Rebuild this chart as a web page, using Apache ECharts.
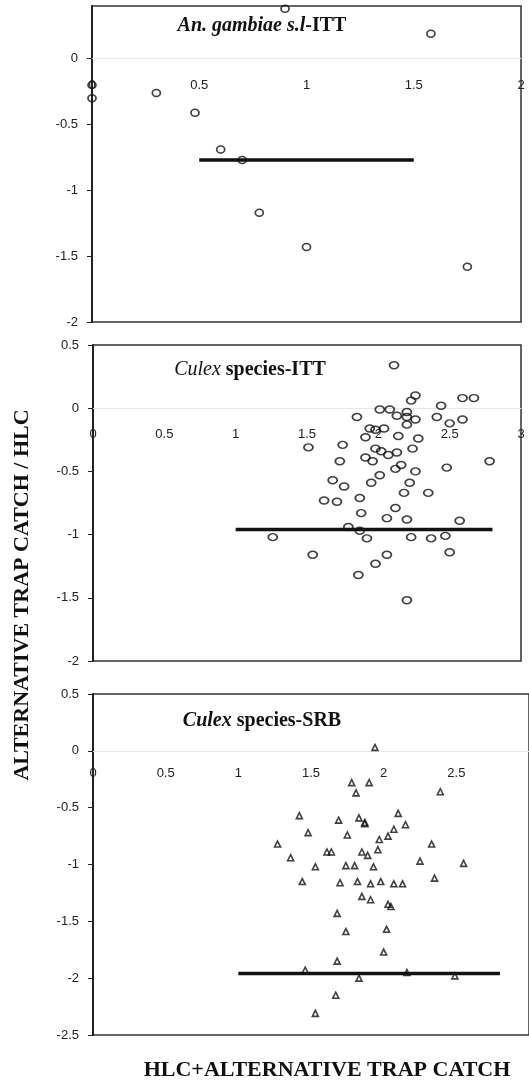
<!DOCTYPE html>
<html>
<head>
<meta charset="utf-8">
<title>Alternative trap catch / HLC</title>
<script src="https://cdn.jsdelivr.net/npm/echarts@6/dist/echarts.min.js"></script>
<style>
    html, body { margin: 0; padding: 0; background: #fff; }
    #chart { width: 529px; height: 1083px; }
</style>
</head>
<body>
<div id="chart"></div>
<script>
// x = HLC + alternative trap catch, y = alternative trap catch / HLC
var gambiaeITT = [[0.90, 0.38], [1.58, 0.19], [0, -0.20], [0, -0.30], [0.30, -0.26], [0.48, -0.41],
    [0.60, -0.69], [0.70, -0.77], [0.78, -1.17], [1.00, -1.43], [1.75, -1.58]];

var culexITT = [[2.11, 0.34], [2.26, 0.10], [2.23, 0.06], [2.44, 0.02], [2.59, 0.08], [2.67, 0.08],
    [2.01, -0.01], [2.08, -0.01], [2.20, -0.03], [1.85, -0.07], [2.13, -0.06], [2.20, -0.07],
    [2.26, -0.09], [2.41, -0.07], [2.50, -0.12], [2.59, -0.09], [2.20, -0.13], [1.94, -0.16],
    [1.98, -0.17], [2.04, -0.16], [1.91, -0.23], [2.14, -0.22], [2.28, -0.24], [1.51, -0.31],
    [1.75, -0.29], [1.98, -0.32], [2.02, -0.34], [2.07, -0.37], [2.13, -0.35], [2.24, -0.32],
    [2.78, -0.42], [1.73, -0.42], [1.91, -0.39], [1.96, -0.42], [2.16, -0.45], [2.12, -0.48],
    [2.26, -0.50], [2.48, -0.47], [2.01, -0.53], [1.95, -0.59], [1.68, -0.57], [1.76, -0.62],
    [2.22, -0.59], [2.18, -0.67], [2.35, -0.67], [1.62, -0.73], [1.71, -0.74], [1.87, -0.71],
    [1.88, -0.83], [2.12, -0.79], [2.06, -0.87], [2.20, -0.88], [2.57, -0.89], [1.79, -0.94],
    [1.87, -0.97], [1.26, -1.02], [1.92, -1.03], [2.23, -1.02], [2.37, -1.03], [2.47, -1.01],
    [1.54, -1.16], [2.06, -1.16], [2.50, -1.14], [1.98, -1.23], [1.86, -1.32], [2.20, -1.52]];

var culexSRB = [[1.94, 0.03], [1.78, -0.28], [1.90, -0.28], [1.81, -0.37], [2.39, -0.36], [1.42, -0.57],
    [1.69, -0.61], [1.83, -0.59], [1.87, -0.63], [1.87, -0.64], [2.10, -0.55], [2.15, -0.65],
    [1.48, -0.72], [1.75, -0.74], [2.07, -0.69], [2.03, -0.75], [1.97, -0.78], [1.27, -0.82],
    [2.33, -0.82], [1.61, -0.89], [1.64, -0.89], [1.85, -0.89], [1.89, -0.92], [1.96, -0.87],
    [1.36, -0.94], [2.25, -0.97], [2.55, -0.99], [1.53, -1.02], [1.74, -1.01], [1.80, -1.01],
    [1.93, -1.02], [2.35, -1.12], [1.44, -1.15], [1.70, -1.16], [1.82, -1.15], [1.91, -1.17],
    [1.98, -1.15], [2.07, -1.17], [2.13, -1.17], [1.85, -1.28], [1.91, -1.31], [2.03, -1.35],
    [2.05, -1.37], [1.68, -1.43], [1.74, -1.59], [2.02, -1.57], [2.00, -1.77], [1.68, -1.85],
    [1.46, -1.93], [1.83, -2.00], [2.16, -1.95], [2.49, -1.98], [1.67, -2.15], [1.53, -2.31]];

// mean lines (start, end)
var gambiaeMean = [[0.5, -0.77], [1.5, -0.77]];
var culexITTMean = [[1.0, -0.96], [2.8, -0.96]];
var culexSRBMean = [[1.0, -1.96], [2.8, -1.96]];

// axis ranges and tick labels
var xRange1 = [0, 2], yRange1 = [-2, 0.4];
var xRange2 = [0, 3], yRange2 = [-2, 0.5];
var xRange3 = [0, 3], yRange3 = [-2.5, 0.5];
var xTicks1 = [0, 0.5, 1, 1.5, 2];
var yTicks1 = [-2, -1.5, -1, -0.5, 0];
var xTicks2 = [0, 0.5, 1, 1.5, 2, 2.5, 3];
var yTicks2 = [-2, -1.5, -1, -0.5, 0, 0.5];
var xTicks3 = [0, 0.5, 1, 1.5, 2, 2.5];
var yTicks3 = [-2.5, -2, -1.5, -1, -0.5, 0, 0.5];

var panelTitles = [
    {i: 'An. gambiae s.l', b: '-ITT'},
    {i: 'Culex', b: ' species-ITT'},
    {i: 'Culex', b: ' species-SRB'}
];
var yTitle = 'ALTERNATIVE TRAP CATCH / HLC';
var xTitle = 'HLC+ALTERNATIVE TRAP CATCH';

var grids = [
    {left: 92, top: 6, width: 429, height: 316},
    {left: 93, top: 345, width: 428, height: 316},
    {left: 93, top: 694, width: 437, height: 341}
];

var labelFont = {fontFamily: 'Liberation Sans', fontSize: 13, color: '#222'};

// x axis sits on y = 0, labels hang below it
function makeX(idx, xr, yr, ticks, margin) {
    var h = grids[idx].height;
    var lift = h * (0 - yr[0]) / (yr[1] - yr[0]);
    return {
        type: 'value', gridIndex: idx, min: xr[0], max: xr[1], position: 'bottom',
        offset: -lift,
        axisLine: {onZero: false, lineStyle: {color: '#e6e6e6', width: 1}},
        axisTick: {show: false},
        splitLine: {show: false},
        axisLabel: Object.assign({margin: margin, customValues: ticks}, labelFont)
    };
}

function makeY(idx, yr, ticks) {
    return {
        type: 'value', gridIndex: idx, min: yr[0], max: yr[1],
        axisLine: {show: true, onZero: false, lineStyle: {color: '#222', width: 2}},
        axisTick: {show: true, length: 5, customValues: ticks, lineStyle: {color: '#222'}},
        splitLine: {show: false},
        axisLabel: Object.assign({margin: 14, customValues: ticks}, labelFont)
    };
}

function scatter(idx, data, symbol, size) {
    return {
        type: 'scatter', xAxisIndex: idx, yAxisIndex: idx, data: data,
        symbol: symbol, symbolSize: size, z: 3,
        itemStyle: {color: 'rgba(255,255,255,0)', borderColor: '#111', borderWidth: 1.6}
    };
}

function meanLine(idx, data) {
    return {
        type: 'line', xAxisIndex: idx, yAxisIndex: idx, data: data,
        symbol: 'none', z: 2,
        lineStyle: {color: '#111', width: 3.5}
    };
}

function titleText(t, x, y, italicWeight) {
    return {
        type: 'text', x: x, y: y, z: 10,
        style: {
            text: '{i|' + t.i + '}{b|' + t.b + '}',
            align: 'center', verticalAlign: 'middle', fill: '#111',
            rich: {
                i: {fontFamily: 'Liberation Serif', fontStyle: 'italic', fontWeight: italicWeight, fontSize: 20, fill: '#111'},
                b: {fontFamily: 'Liberation Serif', fontWeight: 'bold', fontSize: 20, fill: '#111'}
            }
        }
    };
}

var chart = echarts.init(document.getElementById('chart'));

var option = {
    animation: false,
    backgroundColor: '#fff',
    grid: grids.map(function (g) {
        return Object.assign({show: true, borderColor: '#333', borderWidth: 1.5}, g);
    }),
    xAxis: [
        makeX(0, xRange1, yRange1, xTicks1, 20),
        makeX(1, xRange2, yRange2, xTicks2, 20),
        makeX(2, xRange3, yRange3, xTicks3, 16)
    ],
    yAxis: [
        makeY(0, yRange1, yTicks1),
        makeY(1, yRange2, yTicks2),
        makeY(2, yRange3, yTicks3)
    ],
    series: [
        scatter(0, gambiaeITT, 'circle', [8, 7]),
        meanLine(0, gambiaeMean),
        scatter(1, culexITT, 'circle', [9, 7]),
        meanLine(1, culexITTMean),
        scatter(2, culexSRB, 'triangle', 6),
        meanLine(2, culexSRBMean)
    ],
    graphic: [
        titleText(panelTitles[0], 262, 26, 'bold'),
        titleText(panelTitles[1], 250, 370, 'normal'),
        titleText(panelTitles[2], 262, 721, 'bold'),
        {
            type: 'text', x: 22, y: 595, rotation: Math.PI / 2, z: 10,
            style: {
                text: yTitle, align: 'center', verticalAlign: 'middle', fill: '#111',
                fontFamily: 'Liberation Serif', fontWeight: 'bold', fontSize: 22
            }
        },
        {
            type: 'text', x: 327, y: 1070, z: 10,
            style: {
                text: xTitle, align: 'center', verticalAlign: 'middle', fill: '#111',
                fontFamily: 'Liberation Serif', fontWeight: 'bold', fontSize: 22
            }
        }
    ]
};

chart.setOption(option);
</script>
</body>
</html>
